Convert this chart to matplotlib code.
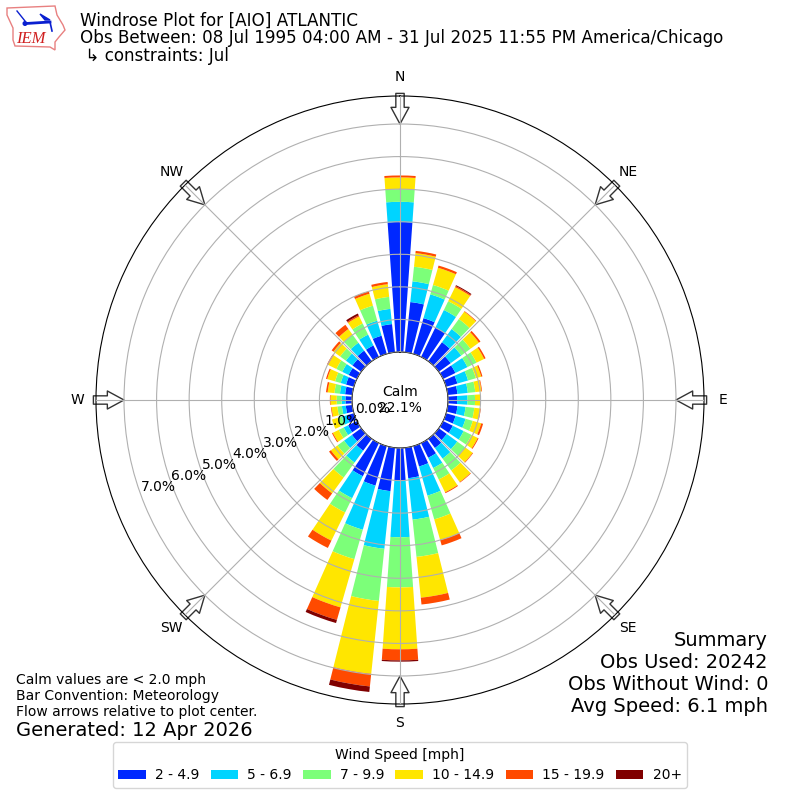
import numpy as np
import matplotlib
matplotlib.use("Agg")
import matplotlib.pyplot as plt
from matplotlib.patches import Polygon, Circle

directions = np.arange(0, 360, 10)
speed_labels = ["2 - 4.9", "5 - 6.9", "7 - 9.9", "10 - 14.9", "15 - 19.9", "20+"]
colors = ["#0028ff", "#00d4ff", "#7cff79", "#ffe600", "#ff4a00", "#800000"]

s_2_5 = [3.99,1.55,1.14,1.00,.72,.45,.42,.36,.30,.28,.30,.30,.33,.30,.35,.50,.65,.94,
         .99,1.34,1.26,1.13,.45,.35,.30,.22,.20,.20,.22,.25,.28,.33,.40,.39,.58,.87]
s_5_7 = [.62,.64,.76,.60,.50,.40,.41,.34,.32,.32,.25,.32,.37,.40,.40,.35,.93,1.28,
         1.75,1.78,1.41,.75,.45,.30,.15,.16,.12,.12,.16,.17,.22,.25,.30,.37,.48,.47]
s_7_10 = [.39,.45,.30,.30,.38,.35,.31,.25,.23,.23,.27,.23,.27,.30,.45,.39,.76,1.15,
          1.54,1.61,.94,.49,.57,.25,.17,.14,.14,.15,.17,.18,.20,.22,.30,.38,.48,.37]
s_10_15 = [.36,.42,.55,.48,.28,.32,.26,.17,.19,.17,.18,.27,.21,.28,.44,.44,.66,1.26,
           1.90,2.25,1.54,.96,.60,.25,.20,.18,.18,.19,.21,.25,.28,.25,.22,.24,.38,.39]
s_15_20 = [.06,.07,.07,.04,.02,.06,.05,.04,.02,0,.02,.06,.03,.02,.02,.03,.17,.21,
           .34,.39,.40,.25,.25,.07,.03,0,.02,.02,.05,.04,.04,.07,.16,.04,.08,.07]
s_20 = [0,0,0,.03,0,0,0,0,0,0,0,0,0,0,0,0,0,0,
        .04,.17,.10,0,0,0,0,0,0,0,0,0,0,0,0,.06,0,0]
series = [s_2_5, s_5_7, s_7_10, s_10_15, s_15_20, s_20]

compass = ["N", "NE", "E", "SE", "S", "SW", "W", "NW"]
compass_deg = np.arange(0, 360, 45)
r_ticks = np.arange(0, 8)
r_tick_labels = [f"{v:.1f}%" for v in r_ticks]
RMAX = 7.86

fig = plt.figure(figsize=(8, 8), dpi=100)
ax = fig.add_axes([96/800, 96/800, 608/800, 608/800], projection="polar")
ax.set_theta_zero_location("N")
ax.set_theta_direction(-1)

theta = np.deg2rad(directions)
bottom = np.zeros(36)
for vals, c, lab in zip(series, colors, speed_labels):
    v = np.array(vals, dtype=float)
    ax.bar(theta, v, width=np.deg2rad(8), bottom=bottom, color=c, linewidth=0, label=lab, zorder=2)
    bottom += v

ax.set_rorigin(-48/32.57)
ax.set_rlim(0, RMAX)
ax.set_yticks(r_ticks)
ax.set_yticklabels(r_tick_labels, fontsize=10, ha="left", va="bottom")
ax.set_rlabel_position(250)
ax.set_xticks(np.deg2rad(compass_deg))
ax.set_xticklabels(compass, fontsize=10)
ax.tick_params(axis="x", pad=3)
ax.grid(True, color="#b0b0b0", linewidth=0.8)
ax.set_axisbelow(False)

for d in compass_deg:
    ax.annotate("", xy=(np.deg2rad(d), 7.0), xytext=(np.deg2rad(d), RMAX + 0.08),
                arrowprops=dict(facecolor="white", edgecolor="#333333", linewidth=1,
                                width=6, headwidth=13, headlength=12, shrink=0),
                annotation_clip=False, zorder=2.2)

ax.text(0.5, 0.5, "Calm\n22.1%", transform=ax.transAxes, ha="center", va="center", fontsize=10)

def ftext(px, py, s, **kw):
    fig.text(px/800, 1 - py/800, s, va="center", **kw)

ftext(80, 21, "Windrose Plot for [AIO] ATLANTIC", fontsize=12.05)
ftext(80, 38, "Obs Between: 08 Jul 1995 04:00 AM - 31 Jul 2025 11:55 PM America/Chicago", fontsize=12.05)
ftext(80, 56, " ↳ constraints: Jul", fontsize=12.05)

for y, s in zip([640, 662, 684, 706], ["Summary", "Obs Used: 20242", "Obs Without Wind: 0", "Avg Speed: 6.1 mph"]):
    ftext(768, y, s, fontsize=14, ha="right")
for y, s in zip([680, 696, 712], ["Calm values are < 2.0 mph", "Bar Convention: Meteorology", "Flow arrows relative to plot center."]):
    ftext(16, y, s, fontsize=10)
ftext(16, 730, "Generated: 12 Apr 2026", fontsize=14)

h, l = ax.get_legend_handles_labels()
fig.legend(h, l, title="Wind Speed [mph]", ncol=6, loc="center", bbox_to_anchor=(0.5, 1 - 765/800),
           fontsize=10, columnspacing=0.8, handletextpad=0.65)

# logo
lax = fig.add_axes([0, 1 - 60/800, 80/800, 60/800])
lax.set_xlim(0, 80); lax.set_ylim(60, 0); lax.axis("off")
lax.add_patch(Polygon([(7,8),(55,6),(57,15),(63,25),(65,30),(59,37),(55,42),(55,50),(50,47),(15,46),(13,40),(13,28),(7,15)],
                      closed=True, fc="white", ec="#e88080", lw=1))
lax.plot([26,50],[23.5,22], color="#0a1fd0", lw=2)
lax.plot([17,25],[11,21], color="#0a1fd0", lw=1)
lax.add_patch(Circle((25,23.5), 1.8, color="#0a1fd0"))
lax.add_patch(Polygon([(40,14),(50,20),(45,20)], closed=True, color="#0a1fd0"))
lax.plot([50,52],[22,31], color="#0a1fd0", lw=1.2)
lax.text(30.5, 39, "IEM", family="Liberation Serif", style="italic", color="#d02020", fontsize=12, ha="center", va="center")

fig.savefig("out.png", dpi=100)
